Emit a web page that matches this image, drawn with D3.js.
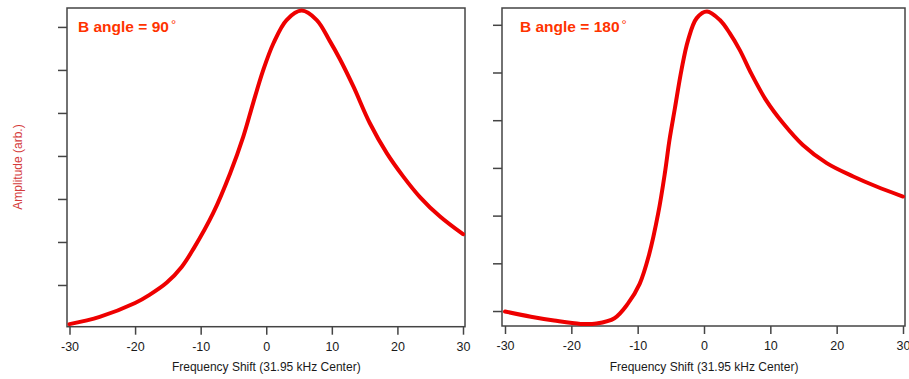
<!DOCTYPE html>
<html>
<head>
<meta charset="utf-8">
<script src="https://cdn.jsdelivr.net/npm/d3@7/dist/d3.min.js"></script>
<style>
  html, body { margin: 0; padding: 0; background: #fff; }
  svg { display: block; }
  text { font-family: "Liberation Sans", Arial, sans-serif; }
</style>
</head>
<body>
<svg id="chart" width="909" height="379"></svg>
<script>
// Frequency shift (kHz) sample positions and amplitudes (arbitrary units)
const shift90 = [-30, -25.4, -20, -17.8, -15.2, -12.9, -11.1, -8.1, -5.5, -3.5, -2.0, -0.45, 1.1, 3.1, 5.4, 7.7, 9.7, 11.2, 13.3, 15.8, 18.4, 20.9, 23.4, 26.5, 30];
const amp90   = [0.09, 0.26, 0.58, 0.77, 1.05, 1.42, 1.84, 2.67, 3.60, 4.45, 5.23, 6.00, 6.62, 7.16, 7.38, 7.16, 6.67, 6.26, 5.61, 4.76, 4.06, 3.52, 3.05, 2.59, 2.18];

const shift180 = [-30, -26.1, -22.6, -18.6, -16.2, -13.5, -11.5, -9.7, -8.3, -6.9, -5.9, -5.2, -4.4, -3.4, -2.4, -1.1, 0.45, 2.4, 3.9, 5.4, 7.15, 9.4, 11.9, 14.9, 18.5, 22.5, 26.0, 30];
const amp180   = [0.99, 0.88, 0.80, 0.73, 0.74, 0.85, 1.15, 1.57, 2.17, 3.05, 3.89, 4.59, 5.24, 6.05, 6.68, 7.14, 7.28, 7.10, 6.82, 6.47, 5.97, 5.41, 4.94, 4.48, 4.10, 3.82, 3.61, 3.40];

const xTicks = [-30, -20, -10, 0, 10, 20, 30];
const yTicks = [1, 2, 3, 4, 5, 6, 7];
const titles = ["B angle = 90", "B angle = 180"];
const xTitle = "Frequency Shift (31.95 kHz Center)";
const yTitle = "Amplitude (arb.)";

const svg = d3.select("#chart");
const frameColor = "#444";
const curveColor = "#ee0000";
const titleColor = "#ff3300";

const panels = [
  { xs: shift90,  ys: amp90,  title: titles[0], titleX: 78,
    frame: { l: 67, r: 465, t: 8, b: 326.7 }, xr: [69.5, 463], yd: [0.03, 7.44] },
  { xs: shift180, ys: amp180, title: titles[1], titleX: 520,
    frame: { l: 502, r: 905, t: 8, b: 326 }, xr: [505, 903], yd: [0.686, 7.352] }
];

panels.forEach(p => {
  const f = p.frame;
  const x = d3.scaleLinear().domain([-30, 30]).range(p.xr);
  const y = d3.scaleLinear().domain(p.yd).range([f.b, f.t]);
  const g = svg.append("g");

  // tick-only left axis
  const ya = g.append("g")
    .attr("transform", `translate(${f.l},0)`)
    .call(d3.axisLeft(y).tickValues(yTicks).tickSize(9).tickFormat(""));
  ya.select(".domain").remove();
  ya.selectAll("line").attr("stroke", frameColor).attr("stroke-width", 1.5);

  // bottom axis with labels (plain hyphen for negatives)
  const xa = g.append("g")
    .attr("transform", `translate(0,${f.b})`)
    .call(d3.axisBottom(x).tickValues(xTicks).tickSize(8).tickPadding(7).tickFormat(d => String(d)));
  xa.select(".domain").remove();
  xa.selectAll("line").attr("stroke", frameColor).attr("stroke-width", 1.5);
  xa.selectAll("text")
    .attr("fill", "#1a1a1a")
    .style("font-size", "12.5px")
    .style("font-family", "'Liberation Sans', Arial, sans-serif");

  // plot frame
  g.append("rect")
    .attr("x", f.l).attr("y", f.t)
    .attr("width", f.r - f.l).attr("height", f.b - f.t)
    .attr("fill", "none")
    .attr("stroke", frameColor)
    .attr("stroke-width", 1.5);

  // response curve
  const line = d3.line()
    .x((d, i) => x(p.xs[i]))
    .y((d, i) => y(p.ys[i]))
    .curve(d3.curveCatmullRom.alpha(0.5));
  g.append("path")
    .datum(p.ys)
    .attr("d", line)
    .attr("fill", "none")
    .attr("stroke", curveColor)
    .attr("stroke-width", 4)
    .attr("stroke-linejoin", "round")
    .attr("stroke-linecap", "round");

  // panel title with raised degree sign
  const t = g.append("text")
    .attr("x", p.titleX)
    .attr("y", 32)
    .attr("fill", titleColor)
    .style("font-size", "15.5px")
    .style("font-weight", "bold")
    .text(p.title);
  t.append("tspan")
    .attr("dx", 2)
    .attr("dy", -3)
    .style("font-size", "13px")
    .style("font-weight", "normal")
    .text("°");

  // x-axis title
  g.append("text")
    .attr("x", (p.xr[0] + p.xr[1]) / 2)
    .attr("y", 371)
    .attr("text-anchor", "middle")
    .attr("fill", "#1a1a1a")
    .style("font-size", "12px")
    .text(xTitle);
});

// shared y-axis title
svg.append("text")
  .attr("transform", "translate(22,167) rotate(-90)")
  .attr("text-anchor", "middle")
  .attr("fill", "#d43a3a")
  .style("font-size", "12px")
  .text(yTitle);
</script>
</body>
</html>
